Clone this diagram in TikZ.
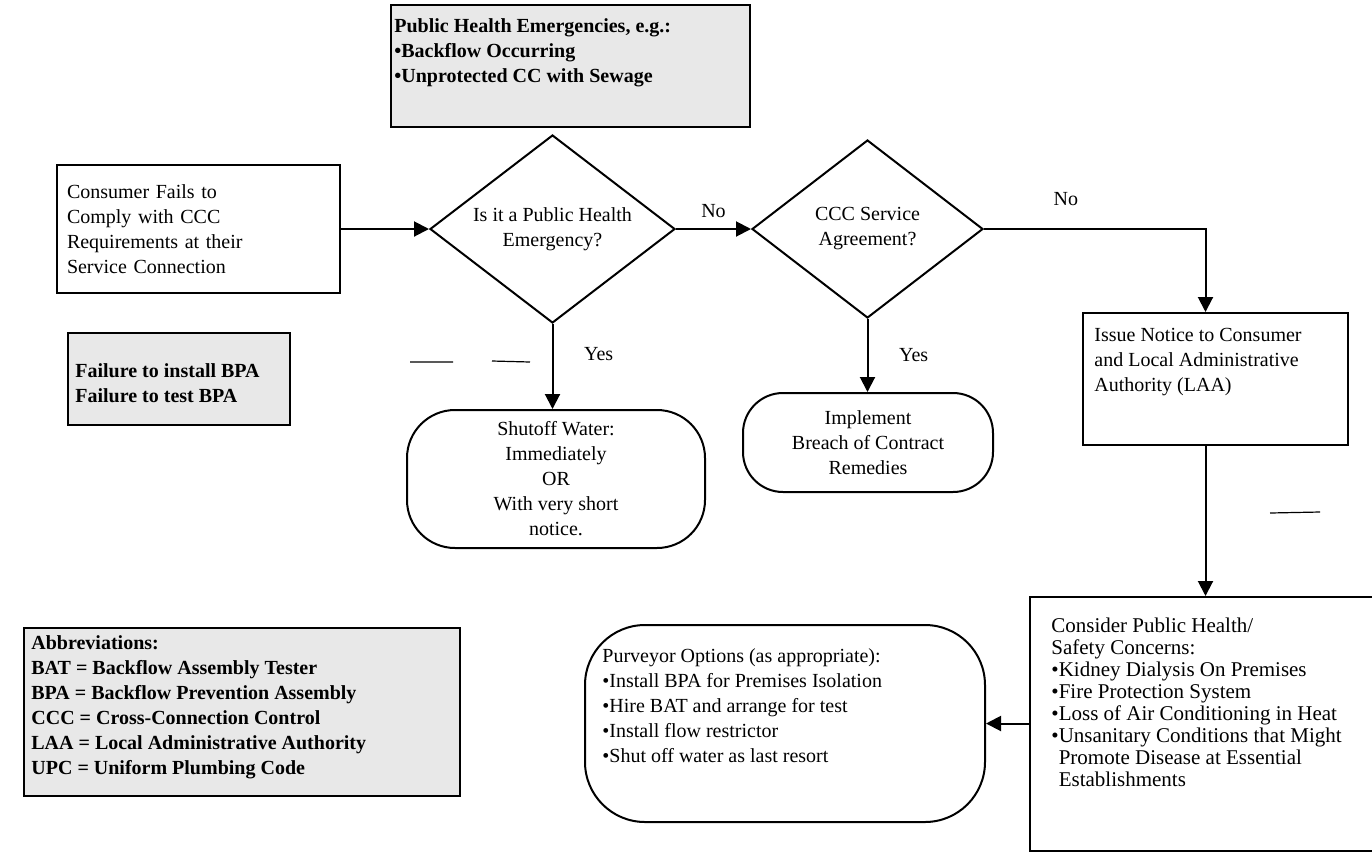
\documentclass[tikz,border=0pt]{standalone}
\usepackage{fontspec}
\setmainfont{Liberation Serif}
\usetikzlibrary{shapes.geometric,arrows.meta}

\tikzset{
  box/.style={draw, line width=1pt, rectangle, inner sep=0pt},
  noisy/.style={box, fill=black!9},
  decision/.style={draw, line width=1pt, diamond, inner sep=0pt, align=center},
  terminal/.style={draw, line width=1pt, rectangle, inner sep=0pt, align=center},
  txt/.style={inner sep=0pt, align=left},
  boldtxt/.style={txt, font=\fontsize{10}{12.5}\selectfont\bfseries},
  flow/.style={line width=1pt, -{Triangle[length=7.5pt,width=7.5pt]}},
}

\begin{document}
\begin{tikzpicture}[x=1pt, y=-1pt, font=\fontsize{10}{12.5}\selectfont]
    \useasboundingbox (0,0) rectangle (686,426.5);

    \node[noisy, minimum width=179.5pt, minimum height=61pt] (emerg) at (285.25,33) {};
    \node[boldtxt, anchor=north west] (emergtxt) at ([shift={(2pt,-7pt)}]emerg.north west) {Public Health Emergencies, e.g.:\\•Backflow Occurring\\•Unprotected CC with Sewage};

    \node[box, minimum width=141.5pt, minimum height=64pt, text width=131.5pt, align=left] (consumer) at (99.25,114.5) {Consumer Fails to\\Comply with CCC\\Requirements at their\\Service Connection};

    \node[decision, aspect=1.3, minimum width=122.5pt, minimum height=94pt] (health) at (276.25,114.5) {Is it a Public Health\\Emergency?};
    \node[decision, aspect=1.3, minimum width=115.5pt, minimum height=89pt] (agree) at (433.75,114.5) {CCC Service\\Agreement?};

    \node[terminal, rounded corners=24pt, minimum width=149pt, minimum height=69pt] (shutoff) at (278,239.5) {Shutoff Water:\\Immediately\\OR\\With very short\\notice.};
    \node[terminal, rounded corners=20pt, minimum width=125pt, minimum height=49.5pt] (implement) at (434,221.25) {Implement\\Breach of Contract\\Remedies};

    \node[box, minimum width=132.5pt, minimum height=66pt] (issue) at (607.75,189.5) {};
    \node[txt, anchor=north west] (issuetxt) at ([shift={(6pt,-8pt)}]issue.north west) {Issue Notice to Consumer\\and Local Administrative\\Authority (LAA)};

    \node[box, minimum width=175pt, minimum height=127pt] (consider) at (602.5,362) {};
    \node[txt, anchor=north west, font=\fontsize{10.5}{11}\selectfont] (considertxt) at ([shift={(11pt,-11pt)}]consider.north west) {Consider Public Health/\\Safety Concerns:\\•Kidney Dialysis On Premises\\•Fire Protection System\\•Loss of Air Conditioning in Heat\\•Unsanitary Conditions that Might\\\phantom{•}Promote Disease at Essential\\\phantom{•}Establishments};

    \node[terminal, rounded corners=30pt, minimum width=200pt, minimum height=98.5pt] (purveyor) at (392.5,361.75) {};
    \node[txt, anchor=north west] (purveyortxt) at ([shift={(9pt,-12pt)}]purveyor.north west) {Purveyor Options (as appropriate):\\•Install BPA for Premises Isolation\\•Hire BAT and arrange for test\\•Install flow restrictor\\•Shut off water as last resort};

    \node[noisy, minimum width=111pt, minimum height=46pt] (failure) at (89.5,189.5) {};
    \node[boldtxt, anchor=west] (failuretxt) at ([shift={(4pt,-2pt)}]failure.west) {Failure to install BPA\\Failure to test BPA};

    \node[noisy, minimum width=218pt, minimum height=84pt] (abbrev) at (121,356) {};
    \node[boldtxt, anchor=north west] (abbrevtxt) at ([shift={(4pt,-4pt)}]abbrev.north west) {Abbreviations:\\BAT = Backflow Assembly Tester\\BPA = Backflow Prevention Assembly\\CCC = Cross-Connection Control\\LAA = Local Administrative Authority\\UPC = Uniform Plumbing Code};

    \draw[flow] (consumer) -- (health);
    \draw[flow] (health) -- node[above=2pt] {No} (agree);
    \draw[flow] (agree.east) -| node[pos=0.185, above=8pt] {No} ([xshift=-5pt]issue.north);
    \draw[flow] (health.south) -- node[pos=0.35, right=12pt] {Yes} (health.south |- shutoff.north);
    \draw[flow] (agree.south) -- node[pos=0.49, right=12pt] {Yes} (agree.south |- implement.north);
    \draw[flow] ([xshift=-5pt]issue.south) -- ([xshift=-5pt]issue.south |- consider.north);
    \draw[flow] (consider.west |- purveyor.east) -- (purveyor.east);

    \draw[line width=0.6pt] (205,181) -- (226.5,181) (246,180.5) -- (265,181);
    \draw[line width=0.6pt] (635,256.5) -- (660,256);
\end{tikzpicture}
\end{document}
